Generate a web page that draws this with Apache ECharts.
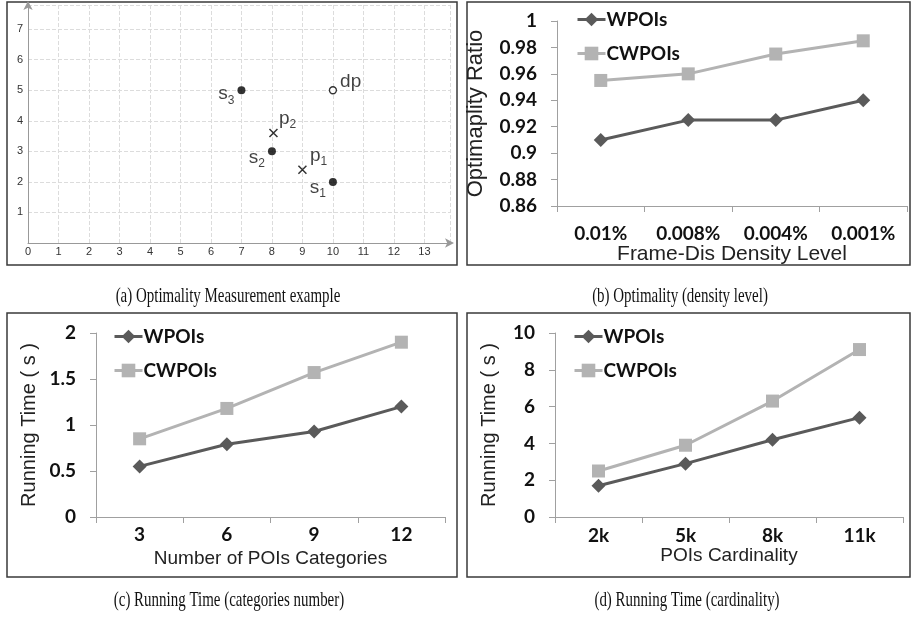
<!DOCTYPE html>
<html>
<head>
<meta charset="utf-8">
<script src="https://cdn.jsdelivr.net/npm/echarts@6/dist/echarts.min.js"></script>
<style>
  html, body { margin: 0; padding: 0; background: #fff; }
  #main { width: 912px; height: 623px; }
</style>
</head>
<body>
<div id="main"></div>
<script>
// (a) Optimality Measurement example
const siteNames = ['s1', 's2', 's3'];
const siteX = [10, 8, 7];
const siteY = [2, 3, 5];
const crossNames = ['p1', 'p2'];
const crossX = [9, 8.05];
const crossY = [2.4, 3.6];
const destNames = ['dp'];
const destX = [10];
const destY = [5];

// (b) Optimality (density level)
const densityLevels = ['0.01%', '0.008%', '0.004%', '0.001%'];
const densityWPOIs = [0.91, 0.925, 0.925, 0.94];
const densityCWPOIs = [0.955, 0.96, 0.975, 0.985];

// (c) Running Time (categories number)
const categoryCounts = ['3', '6', '9', '12'];
const categoriesWPOIs = [0.55, 0.79, 0.93, 1.2];
const categoriesCWPOIs = [0.85, 1.18, 1.57, 1.9];

// (d) Running Time (cardinality)
const cardinalities = ['2k', '5k', '8k', '11k'];
const cardinalityWPOIs = [1.7, 2.9, 4.2, 5.4];
const cardinalityCWPOIs = [2.5, 3.9, 6.3, 9.1];

const seriesNames = ['WPOIs', 'CWPOIs'];
const captions = [
  '(a) Optimality Measurement example',
  '(b) Optimality (density level)',
  '(c) Running Time (categories number)',
  '(d) Running Time (cardinality)'
];

const DARK = '#5a5a5a';
const LIGHT = '#b3b3b3';
const AXIS = '#a0a0a0';
const TICK_FONT = 'Lato';
const NAME_FONT = '"Liberation Sans", Arial, sans-serif';

// label placement for the points of panel (a)
const pointLabelPos = {
  s1: { position: 'left', offset: [2, 6] },
  s2: { position: 'left', offset: [2, 6] },
  s3: { position: 'left', offset: [2, 4] },
  p1: { position: 'right', offset: [-4, -14] },
  p2: { position: 'right', offset: [-6, -14] },
  dp: { position: 'right', offset: [-2, -8] }
};

function pointLabel(name) {
  const main = name.slice(0, 1);
  const sub = name.slice(1);
  if (name === 'dp') return '{m|dp}';
  return '{m|' + main + '}{s|' + sub + '}';
}

const pointRich = {
  m: { fontSize: 19, fontFamily: NAME_FONT, color: '#111' },
  s: { fontSize: 12, fontFamily: NAME_FONT, color: '#111', padding: [12, 0, 0, 0], verticalAlign: 'bottom' }
};

function pointData(names, xs, ys) {
  return names.map((n, i) => ({
    value: [xs[i], ys[i]],
    name: n,
    label: {
      show: true,
      formatter: pointLabel(n),
      rich: pointRich,
      position: pointLabelPos[n].position,
      offset: pointLabelPos[n].offset
    }
  }));
}

const grids = [
  { left: 28, top: 5, width: 422, height: 238 },
  { left: 557, top: 21, width: 350, height: 185 },
  { left: 96, top: 333, width: 349, height: 184 },
  { left: 555, top: 333, width: 348, height: 184 }
];

function catAxis(idx, data, name, margin, nameGap, nameSize) {
  return {
    type: 'category',
    gridIndex: idx,
    data: data,
    boundaryGap: true,
    name: name,
    nameLocation: 'middle',
    nameGap: nameGap,
    nameTextStyle: { fontFamily: NAME_FONT, fontSize: nameSize, color: '#222' },
    axisLine: { lineStyle: { color: AXIS, width: 1 } },
    axisTick: { show: true, length: 6, lineStyle: { color: AXIS } },
    axisLabel: { margin: margin, fontFamily: TICK_FONT, fontWeight: 'bold', fontSize: 19, color: '#111' },
    splitLine: { show: false }
  };
}

function valAxis(idx, min, max, interval, name, nameGap, nameSize) {
  return {
    type: 'value',
    gridIndex: idx,
    min: min,
    max: max,
    interval: interval,
    name: name,
    nameLocation: 'middle',
    nameGap: nameGap,
    nameTextStyle: { fontFamily: NAME_FONT, fontSize: nameSize, color: '#222' },
    axisLine: { show: true, lineStyle: { color: AXIS, width: 1 } },
    axisTick: { show: true, length: 6, lineStyle: { color: AXIS } },
    axisLabel: { margin: 20, fontFamily: TICK_FONT, fontWeight: 'bold', fontSize: 19, color: '#111' },
    splitLine: { show: false }
  };
}

function lineSeries(idx, name, data) {
  const dark = name === 'WPOIs';
  return {
    type: 'line',
    name: name,
    xAxisIndex: idx,
    yAxisIndex: idx,
    data: data,
    symbol: dark ? 'diamond' : 'rect',
    symbolSize: dark ? 14 : 13,
    lineStyle: { width: 3, color: dark ? DARK : LIGHT },
    itemStyle: { color: dark ? DARK : LIGHT },
    z: dark ? 3 : 2,
    animation: false
  };
}

function legendAt(left, top) {
  return {
    left: left,
    top: top,
    orient: 'vertical',
    itemWidth: 28,
    itemHeight: 17,
    itemGap: 15,
    data: seriesNames,
    selectedMode: false,
    lineStyle: { width: 3 },
    textStyle: { fontFamily: TICK_FONT, fontWeight: 'bold', fontSize: 19, color: '#111', padding: [0, 0, 0, -4] }
  };
}

const panelBoxes = [
  [7, 2, 450, 263],
  [467, 2, 443, 263],
  [7, 313, 450, 264],
  [467, 313, 443, 264]
];
const captionCenters = [[228, 296], [680, 296], [229, 600], [687, 600]];

const graphics = [];
panelBoxes.forEach(b => {
  graphics.push({
    type: 'rect',
    shape: { x: b[0], y: b[1], width: b[2], height: b[3] },
    style: { fill: 'none', stroke: '#3a3a3a', lineWidth: 1.5 },
    silent: true
  });
});
captions.forEach((t, i) => {
  graphics.push({
    type: 'text',
    x: captionCenters[i][0],
    y: captionCenters[i][1],
    scaleX: 0.68,
    style: {
      text: t,
      font: '22px "Liberation Serif", "Times New Roman", serif',
      fill: '#111',
      align: 'center',
      verticalAlign: 'middle'
    },
    silent: true
  });
});

const chart = echarts.init(document.getElementById('main'), null, { renderer: 'canvas' });

chart.setOption({
  animation: false,
  backgroundColor: '#fff',
  grid: grids,
  legend: [legendAt(571, 5), legendAt(108, 322), legendAt(568, 322)],
  xAxis: [
    {
      type: 'value',
      gridIndex: 0,
      min: 0,
      max: 13.84,
      interval: 1,
      axisLine: { show: true, symbol: ['none', 'arrow'], symbolSize: [7, 9], symbolOffset: [0, 4], lineStyle: { color: '#999', width: 1 } },
      axisTick: { show: false },
      axisLabel: { showMaxLabel: false, margin: 3, fontSize: 11, fontFamily: NAME_FONT, color: '#333' },
      splitLine: { show: true, lineStyle: { color: '#dcdcdc', type: 'dashed', width: 1 } }
    },
    catAxis(1, densityLevels, 'Frame-Dis Density Level', 18, 31, 21),
    catAxis(2, categoryCounts, 'Number of POIs Categories', 8, 32, 19),
    catAxis(3, cardinalities, 'POIs Cardinality', 9, 27, 19)
  ],
  yAxis: [
    {
      type: 'value',
      gridIndex: 0,
      min: 0,
      max: 7.79,
      interval: 1,
      axisLine: { show: true, symbol: ['none', 'arrow'], symbolSize: [7, 9], symbolOffset: [0, 4], lineStyle: { color: '#999', width: 1 } },
      axisTick: { show: false },
      axisLabel: { showMaxLabel: false, showMinLabel: false, margin: 5, fontSize: 11, fontFamily: NAME_FONT, color: '#333' },
      splitLine: { show: true, lineStyle: { color: '#dcdcdc', type: 'dashed', width: 1 } }
    },
    valAxis(1, 0.86, 1, 0.02, 'Optimaplity Ratio', 70, 22),
    valAxis(2, 0, 2, 0.5, 'Running Time ( s )', 57, 20),
    valAxis(3, 0, 10, 2, 'Running Time ( s )', 56, 20)
  ],
  series: [
    {
      type: 'scatter',
      name: 'sites',
      xAxisIndex: 0,
      yAxisIndex: 0,
      symbol: 'circle',
      symbolSize: 8,
      itemStyle: { color: '#000' },
      data: pointData(siteNames, siteX, siteY)
    },
    {
      type: 'scatter',
      name: 'queries',
      xAxisIndex: 0,
      yAxisIndex: 0,
      symbol: 'path://M0,0L10,10M10,0L0,10',
      symbolSize: 8,
      itemStyle: { color: 'none', borderColor: '#000', borderWidth: 1.5 },
      data: pointData(crossNames, crossX, crossY)
    },
    {
      type: 'scatter',
      name: 'dest',
      xAxisIndex: 0,
      yAxisIndex: 0,
      symbol: 'circle',
      symbolSize: 7,
      itemStyle: { color: '#fff', borderColor: '#000', borderWidth: 1.3 },
      data: pointData(destNames, destX, destY)
    },
    lineSeries(1, 'WPOIs', densityWPOIs),
    lineSeries(1, 'CWPOIs', densityCWPOIs),
    lineSeries(2, 'WPOIs', categoriesWPOIs),
    lineSeries(2, 'CWPOIs', categoriesCWPOIs),
    lineSeries(3, 'WPOIs', cardinalityWPOIs),
    lineSeries(3, 'CWPOIs', cardinalityCWPOIs)
  ],
  graphic: graphics
});
</script>
</body>
</html>
